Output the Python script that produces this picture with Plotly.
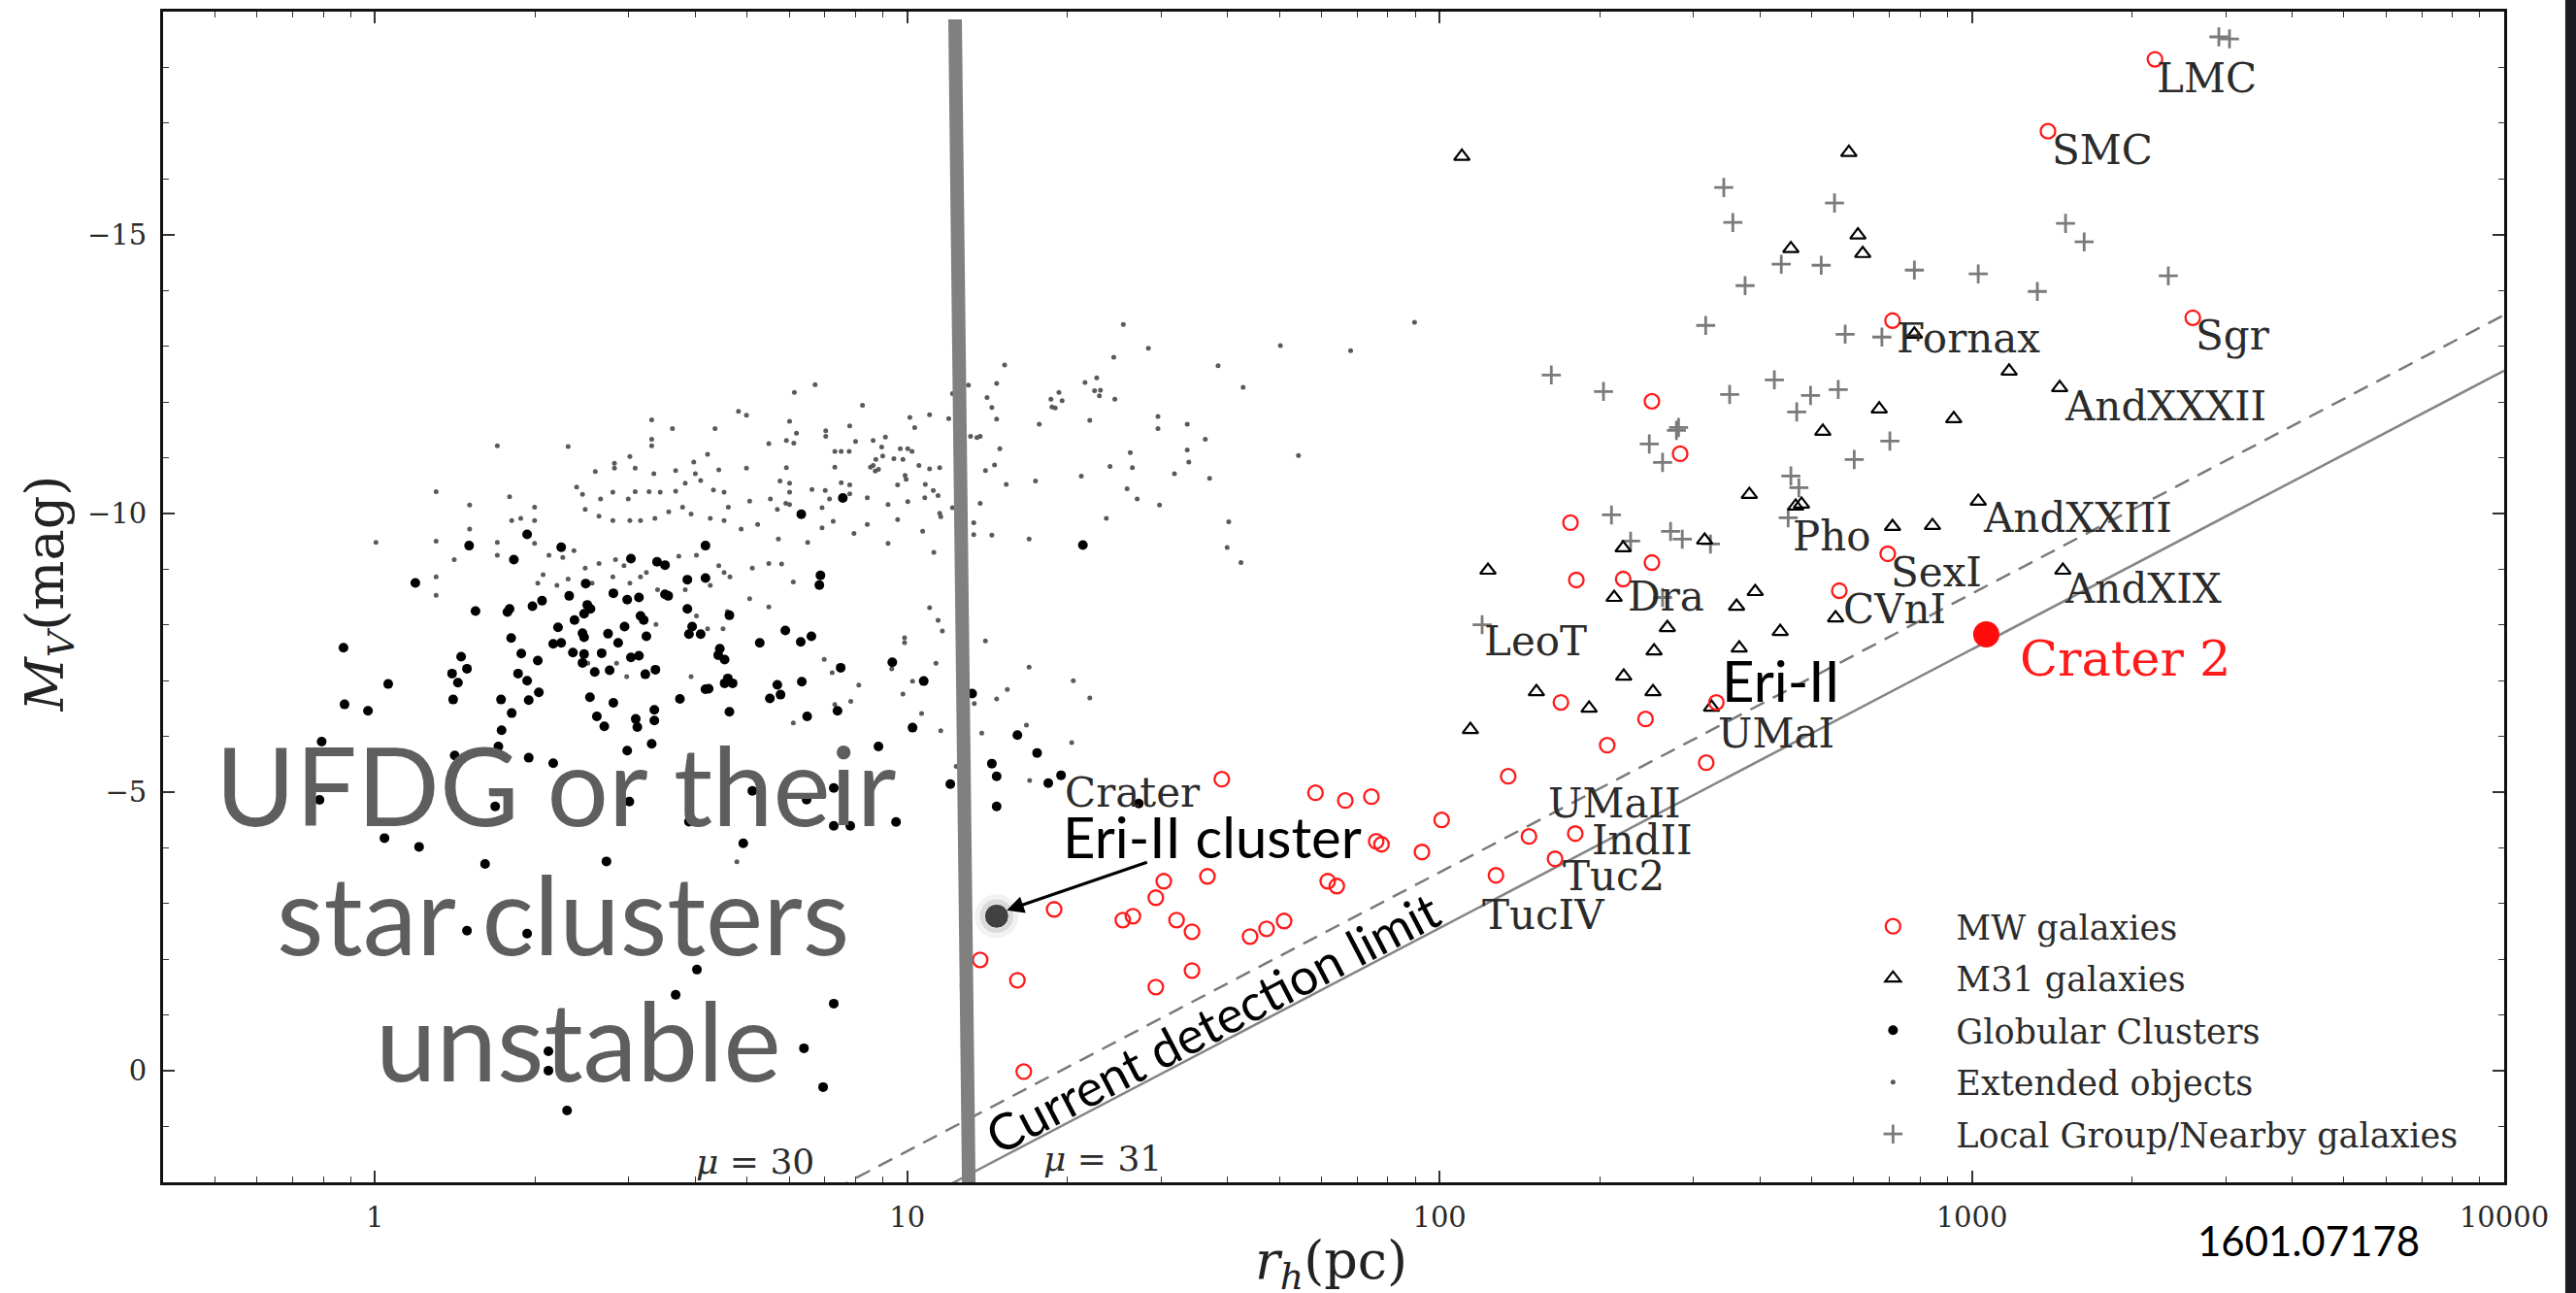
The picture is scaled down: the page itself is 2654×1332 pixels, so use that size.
import numpy as np
import plotly.graph_objects as go

# ------------------------------------------------------------------
# Catalogue values: log10 of half-light radius r_h [pc] and M_V [mag]
# ------------------------------------------------------------------

# Milky Way satellite galaxies
mw_log_rh = [3.344, 3.143, 2.851, 3.415, 2.842, 2.751, 2.399, 2.452, 2.246, 2.399,
             2.257, 2.345, 2.228, 2.387, 2.315, 2.520, 2.501, 2.129, 2.004, 1.967,
             2.168, 2.255, 2.217, 2.106, 1.591, 1.767, 1.823, 1.872, 1.881, 1.891,
             1.564, 1.482, 1.467, 1.405, 1.424, 1.276, 1.506, 1.535, 1.644, 1.675,
             1.708, 1.790, 1.807, 1.535, 1.467, 1.137, 1.207, 1.219]
mw_mv = [-18.146, -16.856, -13.458, -13.510, -9.275, -8.613, -12.011, -11.070, -9.833, -9.118,
         -8.805, -8.822, -6.609, -6.312, -5.842, -6.609, -5.528, -5.284, -4.500, -3.925,
         -4.204, -4.256, -3.803, -3.507, -5.232, -4.988, -4.849, -4.918, -4.117, -4.064,
         -3.489, -3.402, -3.106, -2.705, -2.775, -2.897, -2.705, -2.496, -2.409, -2.548,
         -2.688, -3.402, -3.315, -1.799, -1.503, -1.990, -1.625, 0.014]

# M31 satellite galaxies
m31_log_rh = [2.769, 2.786, 2.795, 2.660, 3.070, 3.165, 2.826, 2.966, 2.720, 2.892,
              2.582, 2.669, 2.680, 3.012, 2.851, 2.926, 3.171, 2.593, 2.558, 2.640,
              2.744, 2.563, 2.498, 2.345, 2.091, 2.328, 2.428, 2.403, 2.346, 2.182,
              2.401, 2.281, 2.511, 2.058, 2.042]
m31_mv = [-16.473, -14.992, -14.660, -14.748, -12.552, -12.255, -11.872, -11.698, -11.471, -13.214,
          -10.338, -10.129, -10.164, -10.216, -9.763, -9.781, -8.979, -8.596, -8.334, -7.881,
          -8.125, -7.585, -9.519, -9.380, -8.979, -8.491, -7.951, -7.532, -7.079, -6.801,
          -6.801, -6.504, -6.522, -6.121, -16.403]

# Globular clusters
gc_log_rh = [0.286, 0.177, 0.350, 0.261, 0.481, 0.530, 0.545, 0.621, 0.621, 0.587,
             0.076, 0.396, 0.448, 0.365, 0.474, 0.496, 0.545, 0.551, 0.314, 0.296,
             0.253, 0.249, 0.189, 0.399, 0.405, 0.393, 0.587, 0.499, 0.505, 0.375,
             0.344, 0.390, 0.393, 0.438, 0.469, 0.510, 0.596, 0.590, 0.612, 0.256,
             0.335, 0.350, 0.457, -0.059, 0.372, 0.393, 0.390, 0.426, 0.481, 0.496,
             0.162, 0.173, 0.275, 0.306, 0.145, 0.156, 0.269, 0.286, 0.413, 0.441,
             0.508, 0.527, 0.621, 0.025, 0.308, 0.289, 0.237, 0.147, 0.404, 0.448,
             0.573, -0.057, -0.013, 0.257, 0.525, 0.525, 0.417, 0.431, 0.490, 0.493,
             0.238, 0.520, 0.474, -0.100, 0.232, 0.150, 0.289, 0.335, -0.104, 0.226,
             0.478, 0.590, 0.018, 0.083, 0.207, 0.435,
             0.879, 0.801, 0.837, 0.835, 1.330, 0.666, 0.771, 0.800, 0.820, 0.723,
             0.648, 0.645, 0.657, 0.972, 0.875, 0.663, 0.657, 0.672, 0.627, 0.756,
             0.762, 0.742, 0.802, 0.666, 0.812, 0.869, 1.031, 1.010, 0.946, 1.122,
             1.207, 1.244,
             1.159, 1.168, 1.265, 1.289, 1.168, 1.435, 1.081, 0.862, 0.862, 0.893,
             0.979, 0.862, 0.842, 0.692, 0.709, 0.811, 0.605, 0.565, 0.806, 0.361,
             0.173, 0.286, 0.326, 0.326]
gc_mv = [-9.624, -9.421, -9.392, -9.171, -9.188, -9.130, -9.072, -9.421, -8.840, -8.811,
         -8.753, -8.741, -8.567, -8.520, -8.451, -8.491, -8.549, -8.520, -8.433, -8.334,
         -8.288, -8.230, -8.247, -8.358, -8.288, -8.201, -8.288, -8.160, -8.085, -8.085,
         -7.957, -7.852, -7.777, -7.841, -7.968, -7.794, -7.968, -7.835, -7.835, -7.765,
         -7.661, -7.678, -7.678, -7.591, -7.504, -7.475, -7.318, -7.492, -7.417, -7.446,
         -7.428, -7.213, -7.486, -7.358, -7.126, -6.963, -7.126, -6.998, -7.155, -7.184,
         -7.114, -7.196, -6.847, -6.940, -6.789, -6.650, -6.661, -6.661, -6.702, -6.603,
         -6.673, -6.574, -6.458, -6.417, -6.475, -6.284, -6.359, -6.179, -6.313, -6.168,
         -6.109, -5.865, -5.743, -5.906, -5.819, -5.656, -5.616, -5.517, -4.860, -4.744,
         -4.831, -4.471, -4.175, -4.018, -3.710, -3.757,
         -10.275, -9.984, -8.886, -8.712, -9.432, -8.172, -7.899, -7.695, -7.794, -7.678,
         -7.573, -7.457, -7.376, -7.329, -7.231, -7.039, -6.952, -6.952, -6.853, -6.923,
         -6.748, -6.679, -6.981, -6.440, -6.359, -6.458, -6.992, -6.156, -5.819, -6.766,
         -6.022, -5.703,
         -5.511, -5.284, -5.162, -5.302, -4.744, -4.796, -5.145, -5.075, -4.395, -4.395,
         -4.465, -1.206, 0.292, -4.082, -5.023, -4.866, -1.816, -1.363, -0.405, 0.711,
         -2.513, -2.461, -0.352, -0.004]

# Extended objects
ext_log_rh = [0.683, 0.698, 0.520, 0.559, 0.639, 0.520, 0.520, 0.363, 0.230, 0.740,
              0.625, 0.599, 0.450, 0.450, 0.479, 0.489, 0.414, 0.524, 0.565, 0.602,
              0.646, 0.698, 0.743, 0.704, 0.664, 0.656, 0.636, 0.612, 0.583, 0.565,
              0.536, 0.515, 0.489, 0.476, 0.447, 0.424, 0.390, 0.379, 0.395, 0.421,
              0.447, 0.479, 0.499, 0.526, 0.552, 0.578, 0.594, 0.630, 0.656, 0.688,
              0.719, 0.756, 0.740, 0.709, 0.667, 0.646, 0.604, 0.571, 0.536, 0.510,
              0.468, 0.452, 0.421, 0.395, 0.374, 0.353, 0.327, 0.300, 0.300, 0.300,
              0.274, 0.253, 0.257, 0.230, 0.230, 0.316, 0.306, 0.342, 0.363, 0.408,
              0.447, 0.479, 0.499, 0.531, 0.583, 0.630, 0.656, 0.704, 0.740, 0.115,
              0.178, 0.115, 0.149, 0.115, 0.115, 0.002, 0.178, 0.528, 0.625, 0.604,
              0.662, 0.654, 0.594, 0.510, 0.473, 0.454, 0.400,
              0.773, 0.787, 0.779, 0.792, 0.788, 0.827, 0.847, 0.847, 0.864, 0.876,
              0.891, 0.892, 0.916, 0.903, 0.864, 0.876, 0.892, 0.892, 0.925, 0.936,
              0.931, 0.761, 0.772, 0.779, 0.779, 0.779, 0.773, 0.821, 0.840, 0.846,
              0.854, 0.861, 0.840, 0.813, 0.758, 0.900, 0.925, 0.764, 0.786, 0.859,
              0.844, 0.909, 0.894, 0.864, 0.786,
              1.183, 1.388, 1.356, 1.334, 1.352, 1.363, 1.361, 1.285, 1.270, 1.291,
              1.272, 1.278, 1.168, 1.150, 1.159, 1.168, 1.248, 1.343, 1.390, 1.115,
              1.085, 1.078, 1.042, 1.005, 1.014, 0.959, 0.952, 0.954, 0.941, 0.936,
              0.975, 0.992, 0.987, 1.001, 1.009, 1.022, 1.042, 1.061, 1.119, 1.131,
              1.137, 1.174, 1.164, 1.147, 1.186, 1.241, 1.327, 1.381, 0.996, 0.998,
              0.982, 1.001, 1.034, 1.033, 1.049, 1.058, 0.964, 0.946, 0.940, 1.137,
              1.085, 1.061, 1.063, 1.029, 0.982, 0.964, 1.050, 1.125, 1.125, 1.159,
              1.229, 1.374, 1.042, 1.058, 1.066, 0.995, 0.995, 1.147, 1.054, 1.010,
              0.992, 1.027, 1.063, 1.126, 1.168, 1.188, 1.229, 1.312, 1.343, 1.224,
              1.140, 1.309, 0.971,
              1.406, 1.453, 1.584, 1.631, 1.701, 1.833, 1.953, 1.735, 1.560, 1.502,
              1.568, 1.604, 1.601, 1.627, 1.474, 1.432, 1.526, 1.526, 1.529, 1.471,
              1.471, 1.419, 1.423, 1.413, 1.092, 1.230, 1.103, 0.680]
ext_mv = [-11.83, -11.76, -11.68, -11.52, -11.52, -11.33, -11.21, -11.20, -11.21, -11.25,
          -11.06, -10.92, -10.90, -10.81, -11.02, -10.81, -10.75, -10.71, -10.77, -10.71,
          -10.78, -10.81, -10.26, -10.22, -10.11, -10.38, -10.42, -10.59, -10.54, -10.40,
          -10.38, -10.39, -10.39, -10.26, -10.38, -10.26, -10.34, -10.47, -10.07, -9.95,
          -9.87, -9.87, -9.87, -9.91, -10.03, -10.11, -9.99, -9.91, -9.87, -9.72,
          -9.80, -10.07, -9.10, -9.02, -8.86, -9.06, -9.25, -9.23, -9.10, -8.94,
          -9.06, -9.17, -9.10, -9.02, -9.33, -9.21, -9.25, -9.46, -9.87, -10.11,
          -9.91, -10.30, -9.87, -9.48, -9.25, -8.90, -8.75, -8.71, -8.82, -8.75,
          -8.86, -8.75, -8.86, -8.63, -8.63, -8.71, -8.94, -8.47, -8.32, -10.39,
          -10.15, -9.50, -9.17, -8.86, -8.53, -9.48, -9.72, -8.01, -7.93, -8.16,
          -8.24, -7.93, -7.07, -7.15, -7.07, -7.31, -7.31,
          -11.31, -11.26, -11.65, -11.44, -12.17, -12.31, -11.48, -11.38, -11.11, -11.11,
          -11.11, -11.57, -11.94, -11.29, -10.83, -10.55, -10.51, -10.35, -10.28, -10.86,
          -10.83, -10.58, -10.18, -10.16, -10.54, -10.38, -10.82, -10.43, -10.10, -10.41,
          -10.26, -9.86, -9.74, -9.48, -9.54, -9.64, -9.80, -9.09, -8.77, -7.14,
          -7.38, -6.92, -6.63, -6.57, -6.24,
          -12.66, -12.80, -12.43, -12.35, -12.20, -12.21, -12.11, -12.17, -12.05, -12.02,
          -11.91, -11.89, -12.33, -12.08, -11.90, -11.69, -11.60, -11.67, -12.05, -12.30,
          -12.15, -11.70, -11.77, -11.72, -11.54, -11.37, -11.19, -11.03, -10.97, -11.31,
          -10.98, -10.97, -11.16, -11.16, -11.11, -10.86, -10.80, -10.82, -11.38, -11.36,
          -11.38, -11.16, -10.87, -10.77, -10.52, -10.58, -10.67, -10.84, -10.68, -10.61,
          -10.51, -10.21, -10.52, -10.28, -10.41, -10.32, -10.16, -10.79, -10.76, -10.18,
          -10.10, -10.00, -9.94, -9.68, -9.89, -9.46, -9.30, -9.83, -9.62, -9.61,
          -9.54, -9.91, -8.31, -8.08, -7.89, -7.77, -7.68, -7.71, -7.31, -6.99,
          -6.76, -6.41, -6.10, -6.59, -6.67, -6.84, -7.24, -7.00, -6.69, -6.20,
          -6.06, -5.89, -7.21,
          -13.39, -12.96, -12.65, -12.26, -13.01, -12.92, -13.43, -11.04, -11.33, -10.71,
          -10.63, -9.85, -9.39, -9.12, -10.15, -10.26, -11.60, -11.14, -10.92, -11.74,
          -11.52, -11.09, -10.82, -10.44, -5.46, -5.21, -1.52, -3.75]

# Local Group / nearby galaxies
lg_log_rh = [3.464, 3.484, 2.534, 2.742, 2.551, 2.642, 2.717, 2.574, 2.892, 3.012,
             3.123, 3.176, 3.211, 3.369, 2.500, 2.762, 2.831, 2.629, 2.545, 2.697,
             2.749, 2.671, 2.846, 2.779, 2.660, 2.675, 2.655, 2.509, 2.210, 2.308,
             2.449, 2.445, 2.394, 2.419, 2.323, 2.359, 2.434, 2.456, 2.419, 2.080]
lg_mv = [-18.547, -18.512, -15.846, -15.567, -15.218, -14.469, -14.451, -14.085, -14.364, -14.295,
         -13.981, -15.201, -14.870, -14.260, -13.371, -13.214, -13.162, -12.395, -12.133, -12.116,
         -12.221, -11.820, -11.297, -10.966, -10.670, -10.460, -9.920, -9.450, -12.482, -12.186,
         -11.541, -11.489, -11.245, -10.914, -9.972, -9.502, -9.676, -9.537, -8.491, -8.003]

# Highlighted objects
crater2_log_rh, crater2_mv = 3.027, -7.83
eri2_cluster_log_rh, eri2_cluster_mv = 1.168, -2.775

# Constant surface-brightness detection limits (mu = 30, 31)
mu_r = [0.4, 10000.0]
mu30_mv = [8.43, -13.56]
mu31_mv = [9.43, -12.56]

# Tidal stability boundary for star clusters
stab_r = [12.3, 13.05]
stab_mv = [-18.86, 2.0]

# Object names and where their labels sit (log10 r_h, M_V of text anchor)
label_names = ["LMC", "SMC", "Fornax", "Sgr", "AndXXXII", "AndXXIII", "Pho", "SexI",
               "AndXIX", "CVnI", "Dra", "LeoT", "UMaI", "UMaII", "IndII", "Tuc2",
               "TucIV", "Crater"]
label_log_rh = [3.344, 3.147, 2.855, 3.417, 3.171, 3.017, 2.660, 2.844,
                3.171, 2.755, 2.350, 2.080, 2.520, 2.201, 2.283, 2.228,
                2.077, 1.292]
label_mv = [-17.815, -16.525, -13.144, -13.197, -11.924, -9.920, -9.589, -8.944,
            -8.648, -8.282, -8.508, -7.707, -6.051, -4.796, -4.134, -3.489,
            -2.792, -4.988]

x_major = [1, 10, 100, 1000, 10000]
x_major_text = ["1", "10", "100", "1000", "10000"]
x_minor = [m * 10.0 ** e for e in range(-1, 4) for m in range(2, 10) if m * 10.0 ** e >= 0.4]
y_major = [-15, -10, -5, 0]
y_major_text = ["\u221215", "\u221210", "\u22125", "0"]

W, H = 2654, 1332
SERIF = "DejaVu Serif"
SANS = "Lato"


def pc(log_vals):
    return [10.0 ** v for v in log_vals]


fig = go.Figure()

# reference lines
fig.add_trace(go.Scatter(x=mu_r, y=mu30_mv, mode="lines", showlegend=False, hoverinfo="skip",
                         line=dict(color="#7a7a7a", width=2.5, dash="16px,10px")))
fig.add_trace(go.Scatter(x=mu_r, y=mu31_mv, mode="lines", showlegend=False, hoverinfo="skip",
                         line=dict(color="#858585", width=2.5)))

# catalogue samples
fig.add_trace(go.Scatter(x=pc(ext_log_rh), y=ext_mv, mode="markers", name="Extended objects",
                         legendrank=4, legendgroup="e",
                         marker=dict(size=5, color="#5a5a5a")))
fig.add_trace(go.Scatter(x=pc(gc_log_rh), y=gc_mv, mode="markers", name="Globular Clusters",
                         legendrank=3, legendgroup="g",
                         marker=dict(size=10, color="black")))
fig.add_trace(go.Scatter(x=pc(lg_log_rh), y=lg_mv, mode="markers", name="Local Group/Nearby galaxies",
                         legendrank=5, legendgroup="l",
                         marker=dict(symbol="cross-thin", size=14,
                                     line=dict(width=2.8, color="#7a7a7a"))))
fig.add_trace(go.Scatter(x=pc(m31_log_rh), y=m31_mv, mode="markers", name="M31 galaxies",
                         legendrank=2, legendgroup="a",
                         marker=dict(symbol="triangle-up-open", size=14, color="black",
                                     line=dict(width=2.2))))
fig.add_trace(go.Scatter(x=pc(mw_log_rh), y=mw_mv, mode="markers", name="MW galaxies",
                         legendrank=1, legendgroup="m",
                         marker=dict(symbol="circle-open", size=15, color="#ff1a1a",
                                     line=dict(width=2.3))))

# stability boundary
fig.add_trace(go.Scatter(x=stab_r, y=stab_mv, mode="lines", showlegend=False, hoverinfo="skip",
                         line=dict(color="#808080", width=14)))

# Crater 2
fig.add_trace(go.Scatter(x=[10 ** crater2_log_rh], y=[crater2_mv], mode="markers",
                         showlegend=False, marker=dict(size=27, color="#ff0d0d")))

# Eri-II cluster with its soft shadow
fig.add_trace(go.Scatter(x=[10 ** eri2_cluster_log_rh] * 3, y=[eri2_cluster_mv] * 3,
                         mode="markers", showlegend=False,
                         marker=dict(size=[46, 36, 25],
                                     color=["rgba(0,0,0,0.07)", "rgba(0,0,0,0.13)", "black"])))

annotations = []
for name, lx, ly in zip(label_names, label_log_rh, label_mv):
    annotations.append(dict(x=lx, y=ly, xref="x", yref="y", text=name, showarrow=False,
                            xanchor="left", yanchor="middle",
                            font=dict(family=SERIF, size=42, color="#2b2b2b")))

annotations.append(dict(x=3.087, y=-7.393, xref="x", yref="y", text="Crater 2", showarrow=False,
                        xanchor="left", yanchor="middle",
                        font=dict(family=SERIF, size=51, color="#ff1a1a")))

annotations.append(dict(x=0.714, y=1.634, xref="x", yref="y", text="<i>\u03bc</i> = 30",
                        showarrow=False, xanchor="center", yanchor="middle",
                        font=dict(family=SERIF, size=36, color="#2b2b2b")))
annotations.append(dict(x=1.367, y=1.582, xref="x", yref="y", text="<i>\u03bc</i> = 31",
                        showarrow=False, xanchor="center", yanchor="middle",
                        font=dict(family=SERIF, size=36, color="#2b2b2b")))

annotations.append(dict(x=1.573, y=-0.875, xref="x", yref="y", text="Current detection limit",
                        showarrow=False, textangle=-27.6, xanchor="center", yanchor="middle",
                        font=dict(family=SANS, size=52, color="black")))

annotations.append(dict(x=1.573, y=-4.204, xref="x", yref="y", text="Eri-II cluster",
                        showarrow=False, xanchor="center", yanchor="middle",
                        font=dict(family=SANS, size=58, color="black")))
annotations.append(dict(x=1.187, y=-2.879, xref="x", yref="y", text="", showarrow=True,
                        ax=146, ay=-50, arrowhead=2, arrowsize=1.1, arrowwidth=3.2,
                        arrowcolor="black"))
annotations.append(dict(x=2.642, y=-7.010, xref="x", yref="y", text="Eri-II",
                        showarrow=False, xanchor="center", yanchor="middle",
                        font=dict(family=SANS, size=58, color="black")))

for txt, px, py in [("UFDG or their", 0.1675, 0.340),
                    ("star clusters", 0.1708, 0.2305),
                    ("unstable", 0.1774, 0.1227)]:
    annotations.append(dict(x=px, y=py, xref="paper", yref="paper", text=txt, showarrow=False,
                            xanchor="center", yanchor="middle",
                            font=dict(family=SANS, size=112, color="#5e5e5e")))

annotations.append(dict(x=0.9163, y=-0.0498, xref="paper", yref="paper", text="1601.07178",
                        showarrow=False, xanchor="center", yanchor="middle",
                        font=dict(family=SANS, size=42, color="black")))

# axis titles
annotations.append(dict(x=0.499, y=-0.0697, xref="paper", yref="paper",
                        text="<i>r</i><sub><i>h</i></sub>(pc)", showarrow=False,
                        xanchor="center", yanchor="middle",
                        font=dict(family=SERIF, size=54, color="#222")))
annotations.append(dict(x=-0.0489, y=0.503, xref="paper", yref="paper",
                        text="<i>M</i><sub><i>V</i></sub>(mag)", showarrow=False, textangle=-90,
                        xanchor="center", yanchor="middle",
                        font=dict(family=SERIF, size=54, color="#222")))

axis_common = dict(showgrid=False, zeroline=False, showline=True, linecolor="#111", linewidth=3,
                   mirror="ticks", ticks="inside", ticklen=12, tickwidth=1.6, tickcolor="#333",
                   tickfont=dict(family=SERIF, size=29, color="#2a2a2a"), automargin=False)

fig.update_layout(
    width=W, height=H,
    margin=dict(l=168, r=74, t=12, b=114, autoexpand=False),
    paper_bgcolor="white", plot_bgcolor="white",
    xaxis=dict(type="log", range=[np.log10(0.4), 4.0], tickmode="array",
               tickvals=x_major, ticktext=x_major_text, ticklabelstandoff=8,
               minor=dict(ticks="inside", ticklen=6, tickwidth=1.2, tickcolor="#333",
                          tickmode="array", tickvals=x_minor),
               **axis_common),
    yaxis=dict(range=[2, -19], tickmode="array", tickvals=y_major, ticktext=y_major_text,
               ticklabelstandoff=8,
               minor=dict(ticks="inside", ticklen=6, tickwidth=1.2, tickcolor="#333", dtick=1),
               **axis_common),
    legend=dict(x=0.712, y=0.243, xanchor="left", yanchor="top", bgcolor="rgba(0,0,0,0)",
                borderwidth=0, itemwidth=120, tracegroupgap=5, traceorder="grouped",
                font=dict(family=SERIF, size=35, color="#2b2b2b")),
    annotations=annotations,
    shapes=[dict(type="rect", xref="paper", yref="paper", x0=1.0261, x1=1.04, y0=-0.2, y1=1.05,
                 fillcolor="#1c1c22", line=dict(width=0), layer="above")],
    showlegend=True,
)

fig.write_html("out.html")
